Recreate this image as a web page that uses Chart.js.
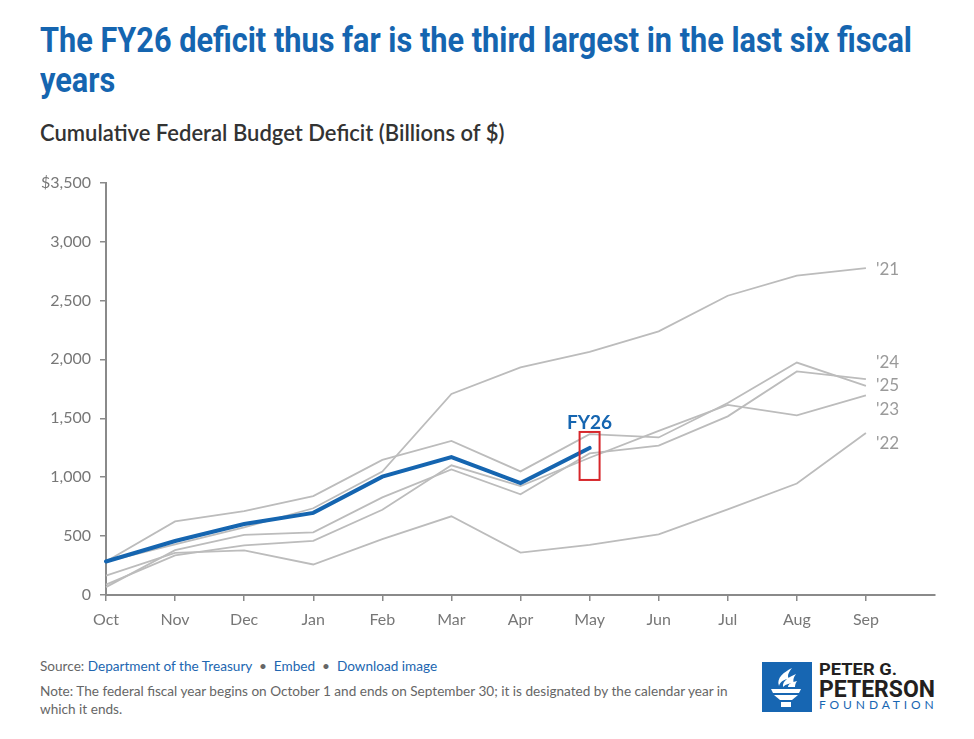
<!DOCTYPE html>
<html>
<head>
<meta charset="utf-8">
<script src="https://cdn.jsdelivr.net/npm/chart.js@4.4.1/dist/chart.umd.min.js"></script>
<style>
  body { margin: 0; background: #fff; width: 974px; height: 739px; overflow: hidden; position: relative; font-family: Lato, "Open Sans", sans-serif; }
  #title { position: absolute; left: 40px; top: 21px; margin: 0; color: #1565b0; font-family: Roboto, sans-serif; font-weight: bold; font-size: 35px; line-height: 40px; white-space: nowrap; transform-origin: 0 0; }
  #subtitle { position: absolute; left: 40px; top: 120px; margin: 0; color: #333; font-size: 22px; font-weight: 600; line-height: 26px; white-space: nowrap; }
  #wrap { position: absolute; left: 0; top: 164px; width: 974px; height: 476px; }
  .foot { position: absolute; left: 40px; color: #666; font-size: 13.6px; line-height: 18px; white-space: nowrap; }
  .foot a { color: #2166b0; text-decoration: none; }
  #logo { position: absolute; left: 762px; top: 662px; }
  #logo .box { position: absolute; left: 0; top: 0; width: 50px; height: 50px; background: #1766b2; }
  #logo .ln { position: absolute; left: 57px; width: max-content; white-space: nowrap; font-family: Roboto, sans-serif; font-weight: bold; color: #231f20; transform-origin: 0 0; }
  #logo .l1 { top: -1px; font-size: 17px; line-height: 17px; }
  #logo .l2 { top: 15px; font-size: 24px; line-height: 24px; }
  #logo .l3 { top: 37px; font-family: Lato, sans-serif; font-weight: normal; font-size: 12px; line-height: 12px; color: #1766b2; letter-spacing: 3.9px; }
</style>
</head>
<body>
<h1 id="title"><span id="t1">The FY26 deficit thus far is the third largest in the last six fiscal</span><br>years</h1>
<p id="subtitle">Cumulative Federal Budget Deficit (Billions of $)</p>
<div id="wrap"><canvas id="deficit-chart" width="974" height="476"></canvas></div>
<div class="foot" style="top:657px">Source: <a href="#">Department of the Treasury</a> &nbsp;&bull;&nbsp; <a href="#">Embed</a> &nbsp;&bull;&nbsp; <a href="#">Download image</a></div>
<div class="foot" style="top:682px">Note: The federal fiscal year begins on October 1 and ends on September 30; it is designated by the calendar year in<br>which it ends.</div>
<div id="logo">
  <div class="box">
    <svg width="50" height="50" viewBox="0 0 50 50">
      <path d="M17 24 C14 16 22 10 30 6 C26 11 25 14 27 17 C22 17 18 20 17 24 Z" fill="#fff"/>
      <path d="M21 25 C20 19 27 15 34 12 C31 16 31 19 32 21 C28 21 24 22 21 25 Z" fill="#fff"/>
      <path d="M26 25 C26 22 30 20 35 19 C33 22 33 24 33 25 Z" fill="#fff"/>
      <path d="M9 27 L39 27 L37 31 L11 31 Z" fill="#fff"/>
      <path d="M12 33 L36 33 L30 38 L18 38 Z" fill="#fff"/>
      <rect x="19" y="40" width="10" height="5" fill="#fff"/>
    </svg>
  </div>
  <div class="ln l1" id="lg1">PETER G.</div>
  <div class="ln l2" id="lg2">PETERSON</div>
  <div class="ln l3">FOUNDATION</div>
</div>
<script>
// squeeze a text block horizontally to a target width (condensed look)
function fitX(el, measureEl, target) {
    var w = measureEl.getBoundingClientRect().width;
    el.style.transform = "scaleX(" + (target / w) + ")";
}
fitX(document.getElementById("title"), document.getElementById("t1"), 872);
fitX(document.getElementById("lg1"), document.getElementById("lg1"), 78);
fitX(document.getElementById("lg2"), document.getElementById("lg2"), 116);

// Data (billions of $, cumulative by month of fiscal year)
var months = ["Oct", "Nov", "Dec", "Jan", "Feb", "Mar", "Apr", "May", "Jun", "Jul", "Aug", "Sep"];
var fy21 = [284, 429, 573, 736, 1047, 1706, 1932, 2064, 2238, 2540, 2711, 2775];
var fy22 = [165, 357, 378, 259, 475, 668, 360, 426, 515, 726, 946, 1375];
var fy23 = [88, 336, 421, 460, 723, 1101, 925, 1165, 1393, 1614, 1525, 1695];
var fy24 = [67, 381, 510, 532, 828, 1065, 855, 1202, 1268, 1516, 1897, 1833];
var fy25 = [284, 624, 711, 840, 1147, 1307, 1049, 1365, 1337, 1629, 1973, 1775];
var fy26 = [284, 458, 602, 697, 1004, 1170, 950, 1248, null, null, null, null];
var yTicks = [0, 500, 1000, 1500, 2000, 2500, 3000, 3500];

var BLUE = "#1565b0";
var GRAY = "#bcbcbc";
var AXIS = "#8a8a8a";

// end labels, nudged in pixels so they don't collide
var endLabels = [
    { text: "'21", ds: 1, dy: 1 },
    { text: "'22", ds: 2, dy: 11 },
    { text: "'23", ds: 3, dy: 14 },
    { text: "'24", ds: 4, dy: -17 },
    { text: "'25", ds: 5, dy: 0 }
];

var labelPlugin = {
    id: "labels",
    afterDatasetsDraw: function(chart) {
        var ctx = chart.ctx;
        ctx.save();
        ctx.font = "17px Lato";
        ctx.fillStyle = "#9a9a9a";
        ctx.textAlign = "left";
        ctx.textBaseline = "middle";
        endLabels.forEach(function(l) {
            var pt = chart.getDatasetMeta(l.ds).data[11];
            ctx.fillText(l.text, pt.x + 10, pt.y + l.dy);
        });

        // FY26 callout
        var last = chart.getDatasetMeta(0).data[7];
        ctx.font = "bold 19px Lato";
        ctx.fillStyle = BLUE;
        ctx.textAlign = "center";
        ctx.fillText("FY26", last.x, last.y - 25);

        ctx.strokeStyle = "#d7262b";
        ctx.lineWidth = 2;
        ctx.strokeRect(last.x - 10, last.y - 16, 20, 48);
        ctx.restore();
    }
};

var ctx = document.getElementById("deficit-chart");
var lineChart = new Chart(ctx, {
    type: "line",
    data: {
        labels: months.concat([""]),
        datasets: [
            { label: "FY26", data: fy26, borderColor: BLUE, borderWidth: 4, borderCapStyle: "round" },
            { label: "FY21", data: fy21, borderColor: GRAY, borderWidth: 1.8 },
            { label: "FY22", data: fy22, borderColor: GRAY, borderWidth: 1.8 },
            { label: "FY23", data: fy23, borderColor: GRAY, borderWidth: 1.8 },
            { label: "FY24", data: fy24, borderColor: GRAY, borderWidth: 1.8 },
            { label: "FY25", data: fy25, borderColor: GRAY, borderWidth: 1.8 }
        ]
    },
    options: {
        responsive: false,
        animation: false,
        elements: {
            point: { radius: 0, hoverRadius: 0 },
            line: { tension: 0, fill: false }
        },
        layout: { padding: { top: 6, right: 39, left: 0, bottom: 0 } },
        plugins: {
            legend: { display: false },
            tooltip: { enabled: false }
        },
        scales: {
            x: {
                offset: false,
                grid: {
                    drawOnChartArea: false,
                    tickLength: 6,
                    lineWidth: 1.5,
                    tickColor: function(c) { return c.index === 12 ? "rgba(0,0,0,0)" : AXIS; }
                },
                border: { color: AXIS, width: 2 },
                ticks: {
                    color: "#777",
                    font: { family: "Lato", size: 16 },
                    padding: 9,
                    autoSkip: false,
                    maxRotation: 0
                },
                afterFit: function(scale) { scale.height = 45; }
            },
            y: {
                min: 0,
                max: 3500,
                afterBuildTicks: function(scale) {
                    scale.ticks = yTicks.map(function(v) { return { value: v }; });
                },
                grid: { drawOnChartArea: false, tickLength: 6, color: AXIS, lineWidth: 1.5 },
                border: { color: AXIS, width: 2 },
                ticks: {
                    color: "#777",
                    font: { family: "Lato", size: 16 },
                    padding: 9,
                    callback: function(v) {
                        return (v === 3500 ? "$" : "") + v.toLocaleString("en-US");
                    }
                },
                afterFit: function(scale) { scale.width = 106; }
            }
        }
    },
    plugins: [labelPlugin]
});
</script>
</body>
</html>
